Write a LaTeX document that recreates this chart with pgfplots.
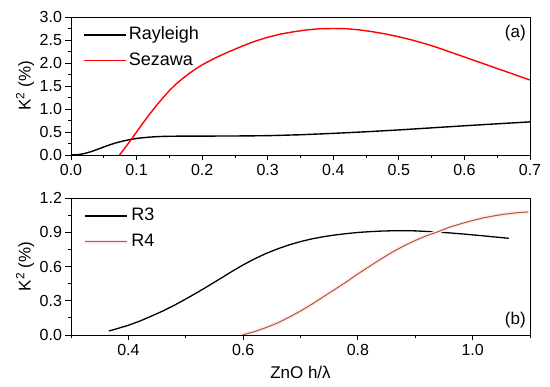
\documentclass[border=0pt]{standalone}
\usepackage{pgfplots}
\pgfplotsset{compat=1.18}
\usepackage{fontspec}
\setmainfont{Liberation Sans}
\definecolor{rfour}{rgb}{0.70,0.36,0.16}
\definecolor{glow}{RGB}{253,234,243}
\pgfplotsset{
  myaxis/.style={
    scale only axis, width=459pt, height=137pt,
    anchor=south west,
    axis line style={black, line width=0.9pt},
    tick align=outside, xtick pos=lower, ytick pos=left,
    major tick length=5.5pt, minor tick length=3.2pt,
    every tick/.style={black, line width=0.8pt},
    tick label style={font=\fontsize{16}{16}\selectfont, black},
    /pgf/number format/assume math mode=true,
    /pgf/number format/.cd, fixed, fixed zerofill, precision=1, /pgfplots/.cd,
    every axis y label/.style={at={(axis description cs:-0.100,0.5)}, rotate=90, anchor=center, font=\fontsize{17}{17}\selectfont},
    every axis x label/.style={at={(axis description cs:0.5,-0.27)}, anchor=center, font=\fontsize{17}{17}\selectfont},
    legend style={draw=none, fill=none, at={(axis description cs:0.02,0.955)}, anchor=north west,
      font=\fontsize{18}{18}\selectfont, row sep=6pt,
      nodes={text height=12.5pt, text depth=3pt, inner sep=2pt}},
    legend image code/.code={\draw[#1] (0pt,0pt) -- (42pt,0pt);},
    legend cell align=left,
  }
}
\begin{document}
\begin{tikzpicture}[x=1pt,y=1pt]
\path[use as bounding box] (0,0) rectangle (550,387);
\begin{axis}[myaxis, at={(71pt,232pt)}, height=138pt,
  xmin=0, xmax=0.7, ymin=0, ymax=3,
  xtick={0,0.1,...,0.7}, ytick={0,0.5,...,3},
  minor xtick={0.05,0.15,...,0.65}, minor ytick={0.25,0.75,...,2.75},
  ylabel={K\textsuperscript{2} (\%)}]
\addplot[black, line width=1.4pt] coordinates {
(0,0) (0.01,0.005) (0.02,0.03) (0.03,0.07) (0.04,0.12) (0.05,0.175) (0.06,0.225)
(0.07,0.27) (0.08,0.305) (0.09,0.335) (0.10,0.36) (0.11,0.376) (0.12,0.389)
(0.13,0.398) (0.14,0.404) (0.15,0.407) (0.17,0.41) (0.20,0.411) (0.25,0.413)
(0.30,0.42) (0.35,0.44) (0.40,0.47) (0.45,0.505) (0.50,0.545) (0.55,0.59)
(0.60,0.635) (0.65,0.678) (0.70,0.72)};
\addlegendentry{Rayleigh}
\addplot[red, line width=1.4pt] coordinates {
(0.074,0.0) (0.08,0.11) (0.09,0.30) (0.10,0.50) (0.11,0.70) (0.12,0.89)
(0.13,1.07) (0.14,1.24) (0.15,1.40) (0.16,1.54) (0.17,1.66) (0.18,1.77)
(0.19,1.87) (0.20,1.96) (0.22,2.11) (0.24,2.24) (0.26,2.36) (0.28,2.47)
(0.30,2.56) (0.32,2.63) (0.34,2.68) (0.36,2.72) (0.38,2.745) (0.40,2.75)
(0.42,2.745) (0.44,2.72) (0.46,2.68) (0.48,2.63) (0.50,2.57) (0.52,2.50)
(0.54,2.42) (0.56,2.33) (0.58,2.23) (0.60,2.13) (0.62,2.03) (0.64,1.93)
(0.66,1.83) (0.68,1.73) (0.70,1.63)};
\addlegendentry{Sezawa}
\node[font=\fontsize{17}{17}\selectfont, anchor=center] at (axis description cs:0.968,0.88) {(a)};
\end{axis}
\begin{axis}[myaxis, at={(71pt,52pt)},
  xmin=0.3, xmax=1.1, ymin=0, ymax=1.2,
  xtick={0.4,0.6,0.8,1.0}, ytick={0,0.3,...,1.2},
  minor xtick={0.3,0.5,0.7,0.9,1.1}, minor ytick={0.15,0.45,0.75,1.05},
  ylabel={K\textsuperscript{2} (\%)}, xlabel={ZnO h/λ}]
\addplot[black, line width=1.3pt] coordinates {
(0.366,0.035) (0.38,0.055) (0.40,0.085) (0.42,0.122) (0.44,0.165) (0.46,0.21)
(0.48,0.26) (0.50,0.315) (0.52,0.372) (0.54,0.432) (0.56,0.493) (0.58,0.555)
(0.60,0.614) (0.62,0.667) (0.64,0.714) (0.66,0.754) (0.68,0.789) (0.70,0.818)
(0.72,0.842) (0.74,0.861) (0.76,0.876) (0.78,0.888) (0.80,0.898) (0.82,0.905)
(0.84,0.91) (0.86,0.913) (0.88,0.914) (0.90,0.912) (0.92,0.907) (0.94,0.901)
(0.96,0.894) (0.98,0.886) (1.00,0.877) (1.02,0.868) (1.04,0.858) (1.063,0.847)};
\addlegendentry{R3}
\addplot[glow, line width=4pt, forget plot] coordinates {
(0.599,0.0) (0.62,0.03) (0.64,0.065) (0.66,0.105) (0.68,0.155) (0.70,0.21)
(0.72,0.27) (0.74,0.335) (0.76,0.40) (0.78,0.465) (0.80,0.535) (0.82,0.60)
(0.84,0.665) (0.86,0.726) (0.88,0.78) (0.90,0.828) (0.92,0.87) (0.94,0.905)
(0.96,0.945) (0.98,0.975) (1.00,1.003) (1.02,1.027) (1.04,1.046) (1.06,1.061)
(1.08,1.072) (1.097,1.078)};
\addplot[rfour, line width=1pt,
  legend image code/.code={\draw[glow, line width=4pt] (0pt,0pt) -- (42pt,0pt); \draw[rfour, line width=1pt] (0pt,0pt) -- (42pt,0pt);}] coordinates {
(0.599,0.0) (0.62,0.03) (0.64,0.065) (0.66,0.105) (0.68,0.155) (0.70,0.21)
(0.72,0.27) (0.74,0.335) (0.76,0.40) (0.78,0.465) (0.80,0.535) (0.82,0.60)
(0.84,0.665) (0.86,0.726) (0.88,0.78) (0.90,0.828) (0.92,0.87) (0.94,0.905)
(0.96,0.945) (0.98,0.975) (1.00,1.003) (1.02,1.027) (1.04,1.046) (1.06,1.061)
(1.08,1.072) (1.097,1.078)};
\addlegendentry{R4}
\node[font=\fontsize{17}{17}\selectfont, anchor=center] at (axis description cs:0.968,0.11) {(b)};
\end{axis}
\end{tikzpicture}
\end{document}
